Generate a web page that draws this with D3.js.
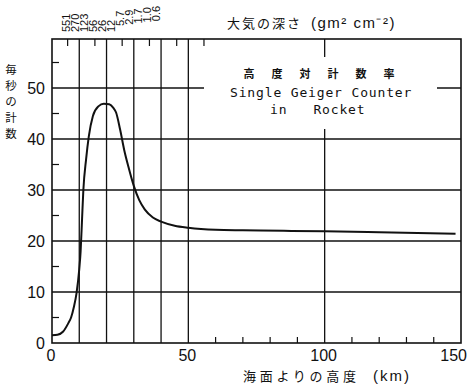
<!DOCTYPE html>
<html>
<head>
<meta charset="utf-8">
<script src="https://cdn.jsdelivr.net/npm/d3@7"></script>
<style>
  html, body { margin: 0; padding: 0; background: #fff; }
  svg { display: block; }
  text { fill: #111; }
</style>
</head>
<body>
<svg id="chart" width="467" height="385"></svg>
<script>
// ---- data ----
const altitudeKm = [0, 2, 4, 6, 7, 8, 9, 10, 10.5, 11, 11.5, 12.5, 13.5, 15, 17, 19, 21, 22.5, 23.5, 25, 26.5, 28, 30, 32, 34, 37, 40, 45, 50, 60, 70, 85, 100, 120, 148];
const countsPerSec = [1.5, 1.6, 2.2, 3.9, 5.0, 7.0, 9.8, 14.5, 18, 24, 30, 36, 40.5, 44.5, 46.4, 46.9, 46.8, 46.1, 45.2, 41.8, 37.8, 34.6, 30.8, 28, 26.2, 24.6, 23.8, 23, 22.6, 22.2, 22.1, 22.0, 21.9, 21.7, 21.4];

const xTicks = [0, 50, 100, 150];
const yTicks = [0, 10, 20, 30, 40, 50];
const xGrid = [10, 20, 30, 40, 50, 100];
const yGrid = [10, 20, 30, 40, 50];
const xMinorTicks = [60, 70, 80, 90, 110, 120, 130, 140];
const yMinorTicks = [5, 15, 25, 35, 45, 55];
const topTickAlt = [5, 15, 25, 35, 45, 55];
const depthLabels = ["551", "270", "123", "56", "26", "12", "5.7", "2.9", "1.7", "1.0", "0.6"];

const topTitleJa = "大気の深さ";
const topTitleUnit = "(gm² cm⁻²)";
const xTitleJa = "海面よりの高度";
const xTitleUnit = "(km)";
const yTitleChars = ["毎", "秒", "の", "計", "数"];
const boxTitle = ["高", "度", "対", "計", "数", "率"];
const boxLine1 = "Single Geiger Counter";
const boxLine2 = "in   Rocket";

// ---- layout ----
const svg = d3.select("#chart");
const L = 52, R = 461, T = 39, B = 343;
const x = d3.scaleLinear().domain([0, 150]).range([L, R]);
const y = d3.scaleLinear().domain([0, 50]).range([B, 88]);

const ink = "#111";
const numFont = "'Liberation Sans', Arial, sans-serif";
const cjkFont = "'Noto Sans CJK JP', 'Noto Sans CJK SC', sans-serif";
const monoFont = "'DejaVu Sans Mono', 'Liberation Mono', monospace";

const g = svg.append("g");

// grid lines
g.selectAll("line.vg").data(xGrid).join("line")
  .attr("x1", d => x(d)).attr("x2", d => x(d))
  .attr("y1", T).attr("y2", B)
  .attr("stroke", ink).attr("stroke-width", 1.3);
g.selectAll("line.hg").data(yGrid).join("line")
  .attr("x1", L).attr("x2", R)
  .attr("y1", d => y(d)).attr("y2", d => y(d))
  .attr("stroke", ink).attr("stroke-width", 1.3);

// minor ticks
g.selectAll("line.xm").data(xMinorTicks).join("line")
  .attr("x1", d => x(d)).attr("x2", d => x(d))
  .attr("y1", B).attr("y2", B - 6)
  .attr("stroke", ink).attr("stroke-width", 1.2);
g.selectAll("line.ym").data(yMinorTicks).join("line")
  .attr("x1", L).attr("x2", L + 7)
  .attr("y1", d => y(d)).attr("y2", d => y(d))
  .attr("stroke", ink).attr("stroke-width", 1.2);
g.selectAll("line.tm").data(topTickAlt).join("line")
  .attr("x1", d => x(d) + 2).attr("x2", d => x(d) + 2)
  .attr("y1", T).attr("y2", T + 7)
  .attr("stroke", ink).attr("stroke-width", 1.2);

// white panel behind the annotation
g.append("rect")
  .attr("x", 204).attr("y", 57).attr("width", 233).attr("height", 72)
  .attr("fill", "#fff");

// frame
g.append("rect")
  .attr("x", L).attr("y", T).attr("width", R - L).attr("height", B - T)
  .attr("fill", "none").attr("stroke", ink).attr("stroke-width", 1.6);

// curve
const line = d3.line()
  .x((d, i) => x(altitudeKm[i]))
  .y(d => y(d))
  .curve(d3.curveMonotoneX);
g.append("path")
  .attr("d", line(countsPerSec))
  .attr("fill", "none").attr("stroke", ink).attr("stroke-width", 2);

// axis tick labels
g.selectAll("text.yt").data(yTicks).join("text")
  .attr("x", 45).attr("y", d => y(d) + 6)
  .attr("text-anchor", "end")
  .attr("font-family", numFont).attr("font-size", 16)
  .text(d => d);
g.selectAll("text.xt").data(xTicks).join("text")
  .attr("x", d => d === 150 ? 467 : x(d) - 1).attr("y", 361)
  .attr("text-anchor", d => d === 150 ? "end" : "middle")
  .attr("font-family", numFont).attr("font-size", 16)
  .text(d => d);

// top depth labels (rotated), packed in a row
const depthPos = d3.scalePoint().domain(depthLabels).range([70, 160]);
g.selectAll("text.dl").data(depthLabels).join("text")
  .attr("transform", (d, i) => {
    const by = i < 6 ? 32 : 26 - (i - 6) * 1.2;
    return `translate(${depthPos(d)},${by}) rotate(-90)`;
  })
  .attr("font-family", numFont).attr("font-size", 11)
  .text(d => d);

// top title
g.append("text")
  .attr("x", 227).attr("y", 28)
  .attr("font-family", cjkFont).attr("font-size", 13)
  .attr("letter-spacing", 2)
  .text(topTitleJa);
g.append("text")
  .attr("x", 311).attr("y", 28)
  .attr("font-family", numFont).attr("font-size", 15)
  .attr("letter-spacing", 1.5)
  .text(topTitleUnit);

// x title
g.append("text")
  .attr("x", 243).attr("y", 381)
  .attr("font-family", cjkFont).attr("font-size", 13)
  .attr("letter-spacing", 3.7)
  .text(xTitleJa);
g.append("text")
  .attr("x", 373).attr("y", 381)
  .attr("font-family", numFont).attr("font-size", 15)
  .attr("letter-spacing", 2)
  .text(xTitleUnit);

// y title (vertical stacked)
g.selectAll("text.yttl").data(yTitleChars).join("text")
  .attr("x", 11).attr("y", (d, i) => 74 + i * 16)
  .attr("text-anchor", "middle")
  .attr("font-family", cjkFont).attr("font-size", 11.5)
  .text(d => d);

// annotation
g.selectAll("text.bt").data(boxTitle).join("text")
  .attr("x", (d, i) => 249 + i * 28).attr("y", 78)
  .attr("text-anchor", "middle")
  .attr("font-family", cjkFont).attr("font-size", 11).attr("font-weight", "bold")
  .text(d => d);
g.append("text")
  .attr("x", 230).attr("y", 97)
  .attr("font-family", monoFont).attr("font-size", 13)
  .attr("letter-spacing", 0.85)
  .text(boxLine1);
g.append("text")
  .attr("x", 270).attr("y", 114)
  .attr("font-family", monoFont).attr("font-size", 13)
  .attr("letter-spacing", 0.85)
  .style("white-space", "pre")
  .text(boxLine2);
</script>
</body>
</html>
